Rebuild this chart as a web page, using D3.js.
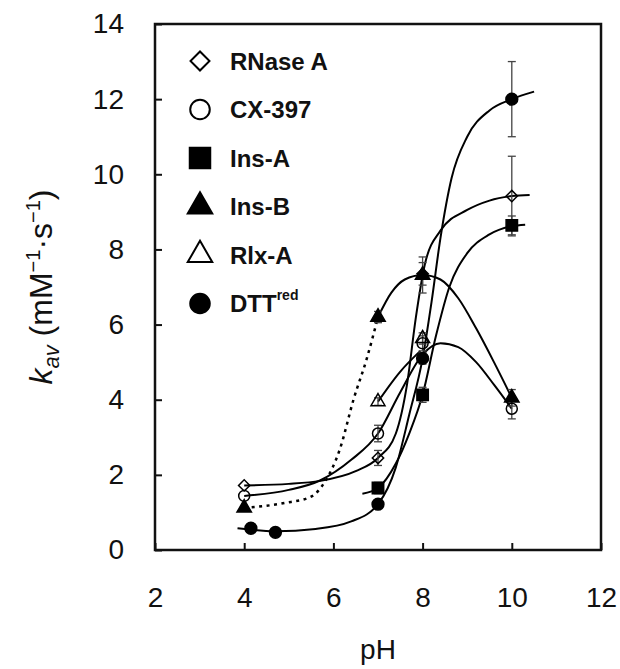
<!DOCTYPE html>
<html>
<head>
<meta charset="utf-8">
<script src="https://cdn.jsdelivr.net/npm/d3@7"></script>
<style>
  body { margin: 0; background: #fff; }
  svg { display: block; font-family: "Liberation Sans", Arial, sans-serif; }
</style>
</head>
<body>
<svg id="chart"></svg>
<script>
// axis ticks
const pHTicks = [2, 4, 6, 8, 10, 12];
const kTicks = [0, 2, 4, 6, 8, 10, 12, 14];

// measured points: [pH, k_av, error]
const rnasePts = [[4, 1.72, 0], [7, 2.45, 0.2], [8, 7.35, 0.3], [10, 9.42, 1.06]];
const cxPts = [[4, 1.44, 0], [7, 3.1, 0.22], [8, 5.5, 0.2], [10, 3.76, 0.27]];
const insAPts = [[7, 1.65, 0.15], [8, 4.13, 0.2], [10, 8.64, 0.25]];
const insBPts = [[4, 1.12, 0], [7, 6.2, 0.15], [8, 7.32, 0.48], [10, 4.05, 0.22]];
const rlxPts = [[7, 3.95, 0.1], [8, 5.63, 0.15]];
const dttPts = [[4.15, 0.58, 0], [4.7, 0.47, 0], [7, 1.22, 0.08], [8, 5.1, 0.15], [10, 12.0, 1.0]];

// fitted curves: [pH, k_av]
const rnaseCurve = [[4, 1.72], [5, 1.76], [5.7, 1.84], [6.5, 2.1], [7, 2.45], [7.4, 3.1], [7.65, 4.4],
  [7.85, 6.2], [8.05, 7.6], [8.4, 8.5], [9, 9.05], [9.5, 9.3], [10, 9.42], [10.4, 9.45]];
const cxCurve = [[4, 1.44], [5, 1.6], [5.7, 1.85], [6.4, 2.4], [7, 3.1], [7.5, 4.2], [8, 5.2],
  [8.4, 5.5], [8.8, 5.4], [9.2, 5.0], [9.6, 4.4], [10, 3.76]];
const insACurve = [[6.65, 1.5], [7, 1.65], [7.4, 2.3], [7.7, 3.1], [8, 4.13], [8.3, 5.7], [8.6, 7.0],
  [9, 7.9], [9.5, 8.4], [10, 8.62], [10.3, 8.66]];
const insBDotted = [[4, 1.12], [4.9, 1.25], [5.5, 1.42], [5.8, 1.8], [6.15, 2.7], [6.45, 4.0],
  [6.75, 5.1], [7, 6.2]];
const insBCurve = [[7, 6.2], [7.3, 6.85], [7.6, 7.2], [8, 7.32], [8.4, 7.2], [8.8, 6.7], [9.2, 5.9],
  [9.6, 5.0], [10, 4.05]];
const rlxCurve = [[7, 3.95], [7.5, 4.75], [7.95, 5.3]];
const dttCurve = [[3.85, 0.58], [4.7, 0.5], [5.6, 0.56], [6.4, 0.76], [7, 1.22], [7.4, 2.2], [7.7, 3.6],
  [8, 5.1], [8.2, 6.6], [8.4, 8.3], [8.65, 9.9], [9, 11.0], [9.5, 11.7], [10, 12.0], [10.5, 12.2]];

// legend
const seriesNames = ["RNase A", "CX-397", "Ins-A", "Ins-B", "Rlx-A", "DTT"];

const W = 620, H = 669;
const margin = {top: 24, right: 19, bottom: 119, left: 155};
const width = W - margin.left - margin.right;
const height = H - margin.top - margin.bottom;

const svg = d3.select('#chart').attr('width', W).attr('height', H);
const g = svg.append('g').attr('transform', 'translate(' + margin.left + ',' + margin.top + ')');

const x = d3.scaleLinear().domain([2, 12]).range([0, width]);
const y = d3.scaleLinear().domain([0, 14]).range([height, 0]);

// axes with inner ticks
const xAxis = g.append('g')
    .attr('transform', 'translate(0,' + height + ')')
    .call(d3.axisBottom(x).tickValues(pHTicks).tickSize(-7).tickPadding(37));
const yAxis = g.append('g')
    .call(d3.axisLeft(y).tickValues(kTicks).tickSize(-7).tickPadding(31));
[xAxis, yAxis].forEach(function(a) {
    a.select('.domain').remove();
    a.selectAll('line').attr('stroke', '#111').attr('stroke-width', 2);
    a.selectAll('text').attr('font-size', 28).attr('fill', '#111')
        .attr('font-family', '"Liberation Sans", Arial, sans-serif');
});

// frame
g.append('rect')
    .attr('width', width).attr('height', height)
    .attr('fill', 'none').attr('stroke', '#111').attr('stroke-width', 2.5);

// curves
const line = d3.line()
    .x(function(d) { return x(d[0]); })
    .y(function(d) { return y(d[1]); })
    .curve(d3.curveMonotoneX);
[rnaseCurve, cxCurve, insACurve, insBCurve, rlxCurve, dttCurve].forEach(function(c) {
    g.append('path').datum(c).attr('d', line)
        .attr('fill', 'none').attr('stroke', '#000').attr('stroke-width', 2);
});
g.append('path').datum(insBDotted).attr('d', line)
    .attr('fill', 'none').attr('stroke', '#000').attr('stroke-width', 2.5)
    .attr('stroke-dasharray', '3,4.5');

// marker shapes
const shapes = {
    diamond: {type: d3.symbolSquare, rot: 45, fill: 'none'},
    circleOpen: {type: d3.symbolCircle, rot: 0, fill: 'none'},
    square: {type: d3.symbolSquare, rot: 0, fill: '#000'},
    triFilled: {type: d3.symbolTriangle, rot: 0, fill: '#000'},
    triOpen: {type: d3.symbolTriangle, rot: 0, fill: 'none'},
    circleFilled: {type: d3.symbolCircle, rot: 0, fill: '#000'}
};
const plotSize = {diamond: 64, circleOpen: 95, square: 130, triFilled: 90, triOpen: 85, circleFilled: 110};
const series = [
    {pts: rnasePts, shape: 'diamond'},
    {pts: cxPts, shape: 'circleOpen'},
    {pts: rlxPts, shape: 'triOpen'},
    {pts: insAPts, shape: 'square'},
    {pts: dttPts, shape: 'circleFilled'},
    {pts: insBPts, shape: 'triFilled'}
];

// error bars
series.forEach(function(s) {
    const eb = g.append('g').selectAll('g')
        .data(s.pts.filter(function(d) { return d[2] > 0; }))
        .enter().append('g')
        .attr('stroke', '#444').attr('stroke-width', 1.3);
    eb.append('line')
        .attr('x1', function(d) { return x(d[0]); }).attr('x2', function(d) { return x(d[0]); })
        .attr('y1', function(d) { return y(d[1] - d[2]); }).attr('y2', function(d) { return y(d[1] + d[2]); });
    [-1, 1].forEach(function(sgn) {
        eb.append('line')
            .attr('x1', function(d) { return x(d[0]) - 4; }).attr('x2', function(d) { return x(d[0]) + 4; })
            .attr('y1', function(d) { return y(d[1] + sgn * d[2]); })
            .attr('y2', function(d) { return y(d[1] + sgn * d[2]); });
    });
});

// markers
series.forEach(function(s) {
    const sh = shapes[s.shape];
    g.append('g').selectAll('path')
        .data(s.pts)
        .enter().append('path')
        .attr('d', d3.symbol().type(sh.type).size(plotSize[s.shape]))
        .attr('transform', function(d) {
            return 'translate(' + x(d[0]) + ',' + y(d[1]) + ') rotate(' + sh.rot + ')';
        })
        .attr('fill', sh.fill).attr('stroke', '#000').attr('stroke-width', 1.5);
});

// legend
const legendShapes = ['diamond', 'circleOpen', 'square', 'triFilled', 'triOpen', 'circleFilled'];
const legendSize = {diamond: 180, circleOpen: 300, square: 420, triFilled: 260, triOpen: 260, circleFilled: 300};
const legend = svg.append('g');
seriesNames.forEach(function(name, i) {
    const yy = 61 + i * 48.5;
    const sh = shapes[legendShapes[i]];
    legend.append('path')
        .attr('d', d3.symbol().type(sh.type).size(legendSize[legendShapes[i]]))
        .attr('transform', 'translate(200,' + yy + ') rotate(' + sh.rot + ')')
        .attr('fill', sh.fill === 'none' ? '#fff' : sh.fill)
        .attr('stroke', '#000').attr('stroke-width', 2);
    const t = legend.append('text')
        .attr('x', 230).attr('y', yy).attr('dy', '0.36em')
        .attr('font-size', 24).attr('font-weight', 'bold').attr('fill', '#111')
        .text(name);
    if (name === 'DTT') {
        t.append('tspan').attr('font-size', 14).attr('dy', '-0.9em').text('red');
    }
});

// axis titles
svg.append('text')
    .attr('x', margin.left + width / 2).attr('y', 659)
    .attr('text-anchor', 'middle').attr('font-size', 28).attr('fill', '#111')
    .text('pH');

const yt = svg.append('text')
    .attr('transform', 'translate(52,' + (margin.top + height / 2) + ') rotate(-90)')
    .attr('text-anchor', 'middle').attr('font-size', 32).attr('fill', '#111');
yt.append('tspan').attr('font-style', 'italic').text('k');
yt.append('tspan').attr('font-style', 'italic').attr('font-size', 22).attr('dy', 7).text('av');
yt.append('tspan').attr('dy', -7).text(' (mM');
yt.append('tspan').attr('font-size', 20).attr('dy', -12).text('\u22121');
yt.append('tspan').attr('dy', 12).text('\u00b7s');
yt.append('tspan').attr('font-size', 20).attr('dy', -12).text('\u22121');
yt.append('tspan').attr('dy', 12).text(')');
</script>
</body>
</html>
